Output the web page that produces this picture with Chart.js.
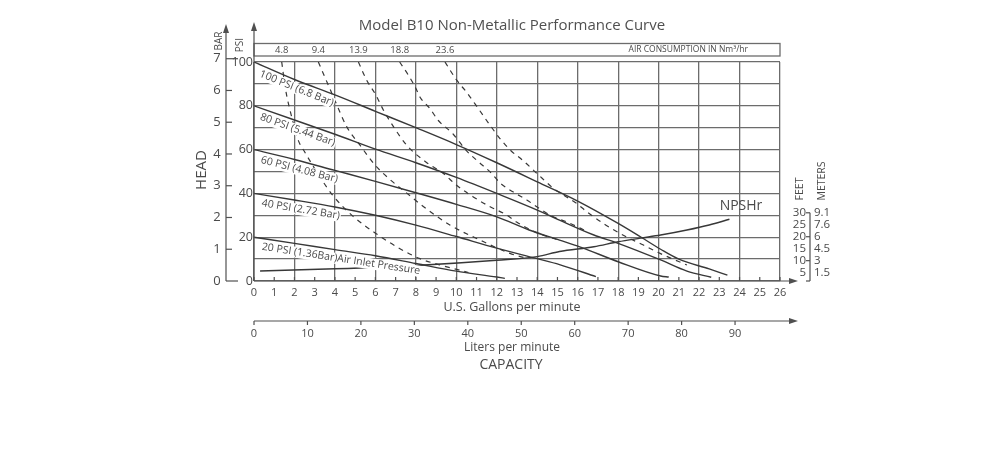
<!DOCTYPE html>
<html>
<head>
<meta charset="utf-8">
<title>Model B10 Non-Metallic Performance Curve</title>
<script src="https://cdn.jsdelivr.net/npm/chart.js@4.4.1/dist/chart.umd.min.js"></script>
<style>
    html, body { margin: 0; padding: 0; background: #ffffff; }
    #wrap { width: 1000px; height: 470px; position: relative; }
</style>
</head>
<body>
<div id="wrap"><canvas id="curveChart" width="1000" height="470"></canvas></div>
<script>
// ---- tick labels ----
const gpmTicks = [0, 1, 2, 3, 4, 5, 6, 7, 8, 9, 10, 11, 12, 13, 14, 15, 16, 17, 18, 19, 20, 21, 22, 23, 24, 25, 26];
const literTicks = [0, 10, 20, 30, 40, 50, 60, 70, 80, 90];
const psiTicks = [0, 20, 40, 60, 80, 100];
const barTicks = [0, 1, 2, 3, 4, 5, 6, 7];
const feetTicks = [5, 10, 15, 20, 25, 30];
const meterLabels = ['1.5', '3', '4.5', '6', '7.6', '9.1'];
const airLabels = ['4.8', '9.4', '13.9', '18.8', '23.6'];

// ---- head curves: [US gpm, psi] ----
const head100 = [[0, 100], [2, 92], [4, 85], [6, 77.5], [8, 70], [10, 62.3], [12, 54], [14, 45.3], [16, 36.5], [18, 26.3], [19.1, 20.2], [20.1, 14.5], [21, 10], [22.5, 5.5], [23.4, 2.7]];
const head80 = [[0, 80], [2, 73.5], [4, 67], [6, 60.2], [8, 54], [10, 47.3], [12, 40], [14, 32.4], [15.1, 27.8], [16.8, 21], [18, 17.2], [20.1, 9.6], [21.4, 4.5], [22.6, 1.7]];
const head60 = [[0, 60], [2, 55.5], [4, 50.5], [6, 45.5], [8, 40.3], [10, 35], [12, 29.3], [13.6, 23.3], [15.1, 18.7], [16.1, 15.6], [18, 8.8], [20.1, 2.3], [20.5, 1.8]];
const head40 = [[0, 40], [2, 37], [4, 33.8], [6, 30], [8, 25.5], [10, 20.3], [12, 15], [14, 10.2], [15.1, 7.5], [16.9, 2]];
const head20 = [[0, 20], [2, 17.2], [4, 14.3], [6, 11.5], [8, 8], [10, 4.5], [12, 1.8], [12.4, 1.2]];

// ---- NPSHr: [US gpm, feet] ----
const npshrFeet = [[0.3, 5.7], [4, 6.6], [8, 8], [12, 10.2], [14, 11.7], [15.1, 13.8], [16.8, 15.8], [18, 17.9], [19.1, 19.4], [20.1, 20.7], [21.4, 22.8], [22.5, 24.9], [23.5, 27.3]];

// ---- air consumption (Nm3/hr) curves: [US gpm, psi] ----
const air48 = [[1.37, 100], [1.55, 88], [1.86, 75], [2.2, 64], [2.5, 59], [3.26, 47.5], [3.9, 39], [4.9, 29.5], [6.06, 21.5], [7.3, 14.3], [8.2, 10.2], [9.4, 6.8], [10.6, 3.9]];
const air94 = [[3.18, 100], [3.67, 89.5], [4.09, 80.5], [4.58, 70.5], [5.24, 62], [5.98, 53], [6.7, 46.5], [7.5, 40.5], [8.37, 34], [9.7, 25.5], [11.33, 18], [12.65, 12.6], [13.5, 10.3]];
const air139 = [[5.16, 100], [5.57, 91.7], [6.03, 84.8], [6.4, 78], [6.9, 70.4], [7.55, 62], [8.54, 54], [9.36, 49.1], [10, 43.8], [10.84, 38.4], [11.67, 33.9], [12.5, 30.1], [13, 26.8], [14, 22], [15, 18.8]];
const air188 = [[7.2, 100], [7.63, 94], [8, 88], [8.2, 84], [8.7, 78.7], [9.1, 73.4], [9.85, 67], [10.5, 59.5], [11.1, 54.4], [11.67, 49.8], [12.2, 44.5], [12.8, 40.7], [13.5, 36.9], [14.1, 33.1], [14.8, 29.3], [15.45, 27], [16.5, 22.5]];
const air236 = [[9.44, 100], [10.02, 91.7], [10.5, 86.3], [11.09, 78.7], [11.67, 71.1], [12.16, 65], [12.7, 59.5], [13.3, 55], [14, 49], [14.8, 42.3], [15.45, 38.4], [15.95, 35.4], [16.45, 31.6], [17.4, 25.5], [18.4, 20.2], [19.25, 16.4], [20.07, 12.6], [21.4, 7.3]];

const headCurves = [
    { label: '100 PSI (6.8 Bar)', pts: head100 },
    { label: '80 PSI (5.44 Bar)', pts: head80 },
    { label: '60 PSI (4.08 Bar)', pts: head60 },
    { label: '40 PSI (2.72 Bar)', pts: head40 },
    { label: '20 PSI (1.36Bar)Air Inlet Pressure', pts: head20 }
];
const airCurves = [air48, air94, air139, air188, air236];

const LPM_PER_GPM = 3.785;
const PSI_PER_BAR = 14.5;

const lineColor = '#383838';
const gridColor = '#6c6c6c';
const textColor = '#4a4a4a';
const fontFamily = "'Open Sans', 'DejaVu Sans', sans-serif";

function toXY(pts) {
    return pts.map(p => ({ x: p[0], y: p[1] }));
}

// linear lookup, only used to place the rotated curve captions
function valueAt(pts, g) {
    for (let i = 1; i < pts.length; i++) {
        if (g <= pts[i][0]) {
            const t = (g - pts[i - 1][0]) / (pts[i][0] - pts[i - 1][0]);
            return pts[i - 1][1] + t * (pts[i][1] - pts[i - 1][1]);
        }
    }
    return pts[pts.length - 1][1];
}

function arrowUp(ctx, px, tipY) {
    ctx.beginPath();
    ctx.moveTo(px, tipY);
    ctx.lineTo(px - 3, tipY + 9);
    ctx.lineTo(px + 3, tipY + 9);
    ctx.closePath();
    ctx.fill();
}

function arrowRight(ctx, tipX, py) {
    ctx.beginPath();
    ctx.moveTo(tipX, py);
    ctx.lineTo(tipX - 9, py - 3);
    ctx.lineTo(tipX - 9, py + 3);
    ctx.closePath();
    ctx.fill();
}

function line(ctx, x1, y1, x2, y2) {
    ctx.beginPath();
    ctx.moveTo(x1, y1);
    ctx.lineTo(x2, y2);
    ctx.stroke();
}

function text(ctx, str, px, py, size, align, rot) {
    ctx.save();
    ctx.font = size + 'px ' + fontFamily;
    ctx.textAlign = align || 'center';
    ctx.textBaseline = 'middle';
    ctx.translate(px, py);
    if (rot) ctx.rotate(rot);
    ctx.fillText(str, 0, 0);
    ctx.restore();
}

// axes, captions and frames drawn around the plot
const decorPlugin = {
    id: 'decor',
    afterDraw(chart) {
        const { ctx, chartArea: a, scales } = chart;
        const x = scales.x, y = scales.y, yFt = scales.yFt;
        ctx.save();
        ctx.fillStyle = textColor;
        ctx.strokeStyle = '#555555';
        ctx.lineWidth = 1.2;

        // title
        ctx.fillStyle = '#505050';
        text(ctx, 'Model B10 Non-Metallic Performance Curve', 512, 26, 15);
        ctx.fillStyle = textColor;

        // air consumption band
        ctx.strokeStyle = gridColor;
        ctx.lineWidth = 1.3;
        ctx.strokeRect(a.left, 43.5, a.right - a.left, 12.5);
        airCurves.forEach((pts, i) => {
            text(ctx, airLabels[i], x.getPixelForValue(pts[0][0]), 50.5, 9.5);
        });
        text(ctx, 'AIR CONSUMPTION IN Nm\u00B3/hr', 748, 50, 8.5, 'right');

        ctx.strokeStyle = '#505050';
        ctx.fillStyle = '#505050';
        ctx.lineWidth = 1.2;

        // PSI axis
        line(ctx, a.left, a.bottom, a.left, 30);
        arrowUp(ctx, a.left, 22);
        ctx.fillStyle = textColor;
        psiTicks.forEach(v => text(ctx, String(v), a.left - 1, y.getPixelForValue(v), 12.5, 'right'));
        text(ctx, 'PSI', 240, 45, 10, 'center', -Math.PI / 2);

        // BAR axis
        const barX = 226;
        ctx.fillStyle = '#505050';
        line(ctx, barX, a.bottom, barX, 32);
        arrowUp(ctx, barX, 24);
        barTicks.forEach(b => {
            const py = y.getPixelForValue(b * PSI_PER_BAR);
            const len = (b === 0 || b === 7) ? 12 : 6;
            line(ctx, barX, py, barX + len, py);
        });
        ctx.fillStyle = textColor;
        barTicks.forEach(b => text(ctx, String(b), 217, y.getPixelForValue(b * PSI_PER_BAR), 13));
        text(ctx, 'BAR', 219, 41, 10, 'center', -Math.PI / 2);
        text(ctx, 'HEAD', 202, 170, 15, 'center', -Math.PI / 2);

        // gallons axis
        ctx.fillStyle = '#505050';
        line(ctx, a.left, a.bottom, 790, a.bottom);
        arrowRight(ctx, 798, a.bottom);
        gpmTicks.forEach(g => {
            const px = x.getPixelForValue(g);
            line(ctx, px, a.bottom, px, a.bottom - 4);
        });
        ctx.fillStyle = textColor;
        gpmTicks.forEach(g => text(ctx, String(g), x.getPixelForValue(g), 293, 11));
        text(ctx, 'U.S. Gallons per minute', 512, 307, 12.5);

        // liters axis
        const litY = 321;
        ctx.fillStyle = '#505050';
        line(ctx, a.left, litY, 790, litY);
        arrowRight(ctx, 798, litY);
        literTicks.forEach(l => {
            const px = x.getPixelForValue(l / LPM_PER_GPM);
            line(ctx, px, litY, px, litY + 4);
        });
        ctx.fillStyle = textColor;
        literTicks.forEach(l => text(ctx, String(l), x.getPixelForValue(l / LPM_PER_GPM), 334, 11));
        text(ctx, 'Liters per minute', 512, 348, 12);
        text(ctx, 'CAPACITY', 511, 365, 14);

        // feet / meters axis
        const ftX = 810;
        const top30 = yFt.getPixelForValue(30);
        line(ctx, ftX, top30, ftX, a.bottom);
        [30, 20, 10].forEach(f => {
            const py = yFt.getPixelForValue(f);
            line(ctx, ftX - 4, py, ftX, py);
        });
        line(ctx, ftX - 4, a.bottom, ftX, a.bottom);
        feetTicks.forEach((f, i) => {
            const py = yFt.getPixelForValue(f);
            text(ctx, String(f), ftX - 4, py, 11.5, 'right');
            text(ctx, meterLabels[i], ftX + 4, py, 11.5, 'left');
        });
        text(ctx, 'FEET', 800, 189, 10.5, 'center', -Math.PI / 2);
        text(ctx, 'METERS', 822, 181, 10.5, 'center', -Math.PI / 2);

        // NPSHr caption
        text(ctx, 'NPSHr', 741, 206, 14);

        // captions along the head curves
        headCurves.forEach(c => {
            const g0 = 0.45, g1 = 3.5;
            const x0 = x.getPixelForValue(g0), y0 = y.getPixelForValue(valueAt(c.pts, g0));
            const x1 = x.getPixelForValue(g1), y1 = y.getPixelForValue(valueAt(c.pts, g1));
            const ang = Math.atan2(y1 - y0, x1 - x0);
            ctx.save();
            ctx.font = '10.5px ' + fontFamily;
            ctx.textAlign = 'left';
            ctx.textBaseline = 'top';
            ctx.translate(x0, y0);
            ctx.rotate(ang);
            ctx.fillStyle = '#ffffff';
            const w = ctx.measureText(c.label).width;
            ctx.fillRect(-1, 3, w + 2, 11);
            ctx.fillStyle = textColor;
            ctx.fillText(c.label, 0, 3);
            ctx.restore();
        });

        ctx.restore();
    }
};

const datasets = [];
headCurves.forEach(c => {
    datasets.push({
        label: c.label,
        data: toXY(c.pts),
        borderColor: lineColor,
        borderWidth: 1.4,
        pointRadius: 0,
        cubicInterpolationMode: 'monotone',
        fill: false
    });
});
airCurves.forEach((pts, i) => {
    datasets.push({
        label: airLabels[i] + ' Nm3/hr',
        data: toXY(pts),
        borderColor: lineColor,
        borderWidth: 1.2,
        borderDash: [5, 5],
        pointRadius: 0,
        cubicInterpolationMode: 'monotone',
        fill: false
    });
});
datasets.push({
    label: 'NPSHr',
    data: toXY(npshrFeet),
    yAxisID: 'yFt',
    borderColor: lineColor,
    borderWidth: 1.4,
    pointRadius: 0,
    cubicInterpolationMode: 'monotone',
    fill: false
});

new Chart(document.getElementById('curveChart'), {
    type: 'line',
    data: { datasets: datasets },
    options: {
        responsive: false,
        animation: false,
        devicePixelRatio: 1,
        layout: { padding: { left: 254, right: 220, top: 62, bottom: 189 } },
        plugins: {
            legend: { display: false },
            tooltip: { enabled: false }
        },
        scales: {
            x: {
                type: 'linear',
                min: 0,
                max: 26,
                border: { display: false },
                grid: {
                    color: c => (c.tick.value % 2 === 0 ? gridColor : 'rgba(0,0,0,0)'),
                    lineWidth: 1.3,
                    drawTicks: false
                },
                ticks: { display: false, stepSize: 1 }
            },
            y: {
                type: 'linear',
                min: 0,
                max: 100,
                border: { display: false },
                grid: { color: gridColor, lineWidth: 1.3, drawTicks: false },
                ticks: { display: false, stepSize: 10 }
            },
            yFt: {
                type: 'linear',
                position: 'right',
                min: 1.5,
                max: 93,
                display: false
            }
        }
    },
    plugins: [decorPlugin]
});
</script>
</body>
</html>
